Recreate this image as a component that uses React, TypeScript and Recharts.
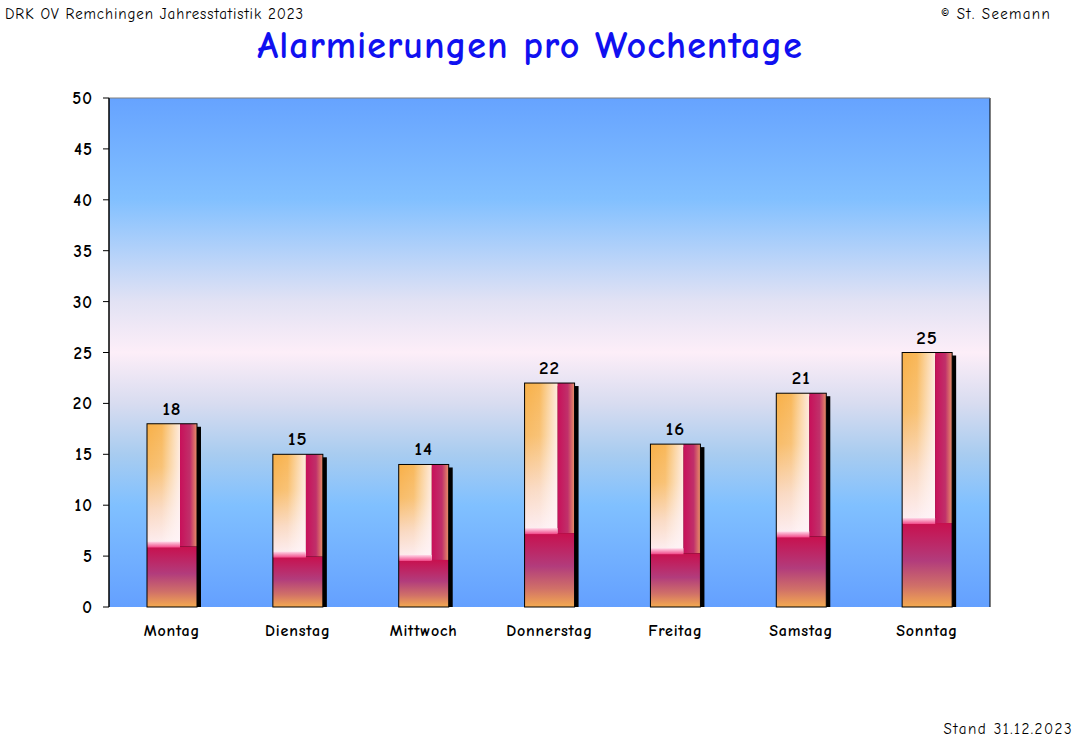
import React from 'react'
import {
  Bar,
  BarChart,
  CartesianGrid,
  LabelList,
  ReferenceLine,
  XAxis,
  YAxis,
} from 'recharts'

const days = ['Montag', 'Dienstag', 'Mittwoch', 'Donnerstag', 'Freitag', 'Samstag', 'Sonntag']
const alarms = [18, 15, 14, 22, 16, 21, 25]
const yTicks = [0, 5, 10, 15, 20, 25, 30, 35, 40, 45, 50]
const dayBounds = [0, 1, 2, 3, 4, 5, 6, 7]

const data = days.map((day, i) => ({ day, alarms: alarms[i] }))

const font = '"Comic Sans MS", "Comic Neue", "DejaVu Sans", sans-serif'

function FancyBar(props: any) {
  const { x, y, width, height } = props
  if (!height || height <= 0) return null
  const split = y + height * 0.67
  const stripX = x + width * 0.66
  return (
    <g>
      <rect x={x + 4} y={y + 3} width={width} height={height - 3} fill="#000" />
      <rect x={x} y={y} width={stripX - x} height={split - y} fill="url(#barLeft)" />
      <rect x={x} y={y} width={stripX - x} height={split - y} fill="url(#barSheen)" />
      <rect x={stripX} y={y} width={x + width - stripX} height={split - y} fill="url(#barStrip)" />
      <rect x={x} y={split} width={width} height={y + height - split} fill="url(#barBottom)" />
      <rect x={x} y={split - 5} width={stripX - x} height={6} fill="url(#barGlow)" />
      <rect x={x} y={y} width={width} height={height} fill="none" stroke="#000" strokeWidth={1} />
    </g>
  )
}

const smallText = { fontSize: 15, letterSpacing: 1, color: '#000' }

export default function App() {
  return (
    <div style={{ position: 'absolute', left: 0, top: 0, width: 1074, height: 744, background: '#fff', fontFamily: font }}>
      <div style={{ position: 'absolute', left: 5, top: 5, ...smallText, letterSpacing: 0.9 }}>
        DRK OV Remchingen Jahresstatistik 2023
      </div>
      <div style={{ position: 'absolute', right: 23, top: 5, ...smallText, letterSpacing: 1.3 }}>© St. Seemann</div>
      <div
        style={{
          position: 'absolute',
          left: 0,
          width: 1060,
          top: 24,
          textAlign: 'center',
          fontSize: 38,
          letterSpacing: 1,
          fontWeight: 'bold',
          color: '#1010f0',
        }}
      >
        Alarmierungen pro Wochentage
      </div>
      <div style={{ position: 'absolute', right: 1, top: 720, ...smallText, letterSpacing: 1.5 }}>Stand 31.12.2023</div>

      <BarChart
        width={1074}
        height={744}
        data={data}
        margin={{ top: 98, right: 84, bottom: 107, left: 49 }}
        barSize={50}
      >
        <defs>
          <linearGradient id="plotBg" x1="0" y1="0" x2="0" y2="1">
            <stop offset="0%" stopColor="#66a3ff" />
            <stop offset="20%" stopColor="#82c0ff" />
            <stop offset="40%" stopColor="#e2e2f4" />
            <stop offset="50%" stopColor="#fdeef8" />
            <stop offset="60%" stopColor="#d8dcf0" />
            <stop offset="70%" stopColor="#a8ccf0" />
            <stop offset="80%" stopColor="#80c0ff" />
            <stop offset="100%" stopColor="#64a0ff" />
          </linearGradient>
          <linearGradient id="barLeft" x1="0" y1="0" x2="0" y2="1">
            <stop offset="0%" stopColor="#f8b048" />
            <stop offset="35%" stopColor="#f8bc68" />
            <stop offset="70%" stopColor="#fad8c0" />
            <stop offset="100%" stopColor="#fdeef4" />
          </linearGradient>
          <linearGradient id="barSheen" x1="0" y1="0" x2="1" y2="0">
            <stop offset="0%" stopColor="#ffffff" stopOpacity={0} />
            <stop offset="45%" stopColor="#ffffff" stopOpacity={0.1} />
            <stop offset="100%" stopColor="#fff4f8" stopOpacity={0.85} />
          </linearGradient>
          <linearGradient id="barStrip" x1="0" y1="0" x2="1" y2="0">
            <stop offset="0%" stopColor="#c8105a" />
            <stop offset="60%" stopColor="#c0306a" />
            <stop offset="100%" stopColor="#e89068" />
          </linearGradient>
          <linearGradient id="barBottom" x1="0" y1="0" x2="0" y2="1">
            <stop offset="0%" stopColor="#c8104e" />
            <stop offset="45%" stopColor="#b23c7c" />
            <stop offset="75%" stopColor="#d07068" />
            <stop offset="100%" stopColor="#f4aa50" />
          </linearGradient>
          <linearGradient id="barGlow" x1="0" y1="0" x2="0" y2="1">
            <stop offset="0%" stopColor="#ffd8e8" />
            <stop offset="100%" stopColor="#f04888" />
          </linearGradient>
        </defs>
        <CartesianGrid xAxisId="num" fill="url(#plotBg)" horizontal={false} stroke="#000" strokeOpacity={1} />
        <XAxis
          xAxisId="num"
          type="number"
          domain={[0, 7]}
          ticks={dayBounds}
          height={0}
          tick={false}
          tickSize={8}
          axisLine={{ stroke: '#000' }}
          tickLine={{ stroke: '#000' }}
        />
        <XAxis
          xAxisId="cat"
          dataKey="day"
          height={30}
          axisLine={false}
          tickLine={false}
          tickSize={10}
          tickMargin={8}
          tick={{ fill: '#000', fontSize: 16, fontWeight: 'bold', fontFamily: font, letterSpacing: 0.8 }}
        />
        <YAxis
          width={60}
          domain={[0, 50]}
          ticks={yTicks}
          interval={0}
          tickSize={6}
          tickMargin={10}
          axisLine={{ stroke: '#000' }}
          tickLine={{ stroke: '#000' }}
          tick={{ fill: '#000', fontSize: 17, fontWeight: 'bold', fontFamily: font, letterSpacing: 1 }}
        />
        <ReferenceLine y={50} xAxisId="cat" stroke="#808080" />
        <ReferenceLine x={7} xAxisId="num" stroke="#808080" />
        <Bar xAxisId="cat" dataKey="alarms" shape={FancyBar} isAnimationActive={false}>
          <LabelList
            dataKey="alarms"
            position="top"
            offset={9}
            style={{ fill: '#000', fontSize: 19, fontWeight: 'bold', fontFamily: font, letterSpacing: 1 }}
          />
        </Bar>
      </BarChart>
    </div>
  )
}
